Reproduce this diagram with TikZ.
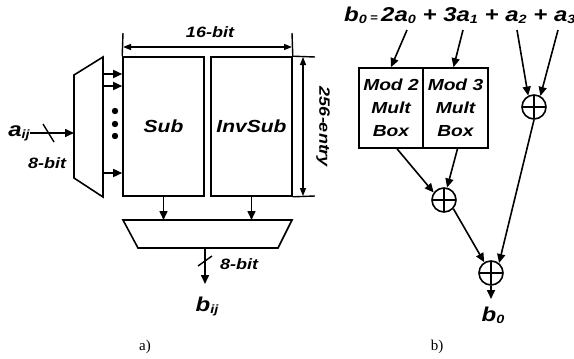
\documentclass[tikz,border=0pt]{standalone}
\usepackage{fontspec}
\newfontfamily\lab[FakeStretch=1.2]{Liberation Sans}
\newfontfamily\capf{Liberation Serif}
\usetikzlibrary{arrows.meta}
\newcommand\fsz[1]{\fontsize{#1}{#1}\selectfont}
\newcommand\subx[1]{\raisebox{-2pt}{\fsz{12}#1}}
\begin{document}
\begin{tikzpicture}[x=1pt,y=-1pt,
  lw/.style={line width=1.6pt},
  arr/.style={line width=1.6pt,-{Triangle[length=9pt,width=8pt]}},
  dimarr/.style={line width=1.4pt,{Triangle[length=8pt,width=6pt]}-{Triangle[length=8pt,width=6pt]}},
  tick/.style={line width=1.4pt},
  txt/.style={font=\lab\bfseries\itshape\fsz{15}, inner sep=0pt},
  big/.style={font=\lab\bfseries\itshape\fsz{20}, inner sep=0pt},
  memb/.style={draw, line width=1.6pt, minimum width=81pt, minimum height=139pt, inner sep=0pt, font=\lab\bfseries\itshape\fsz{17.5}},
  multb/.style={draw, line width=1.6pt, minimum height=80pt, inner sep=0pt, align=center, font=\lab\bfseries\itshape\fontsize{16}{23}\selectfont},
  xorn/.style={circle, draw, line width=1.6pt, minimum size=24pt, inner sep=0pt,
    path picture={\draw[line width=1.6pt] (path picture bounding box.north) -- (path picture bounding box.south)
      (path picture bounding box.west) -- (path picture bounding box.east);}},
  capt/.style={font=\capf\fsz{15}, inner sep=0pt}
]
\useasboundingbox (0,0) rectangle (574,359);

% ---------- a) ----------
\node[memb] (sub) at (163.5,126.5) {Sub};
\node[memb] (inv) at (251.5,126.5) {InvSub};

% input mux
\coordinate (m1tl) at (74,75);
\coordinate (m1tr) at (103,57);
\coordinate (m1br) at (103,197);
\coordinate (m1bl) at (74,178);
\draw[lw] (m1tl) -- (m1tr) -- (m1br) -- (m1bl) -- cycle;

\node[big] (aij) at (19,133) {a\subx{ij}};
\coordinate (m1in) at (74,133);
\draw[arr] (aij.east) -- (m1in);
\draw[tick] (43,124) -- (54,142);
\node[txt] (ib) at (47,163) {8-bit};

\coordinate (o1) at (103,74);
\coordinate (o2) at (103,86);
\coordinate (o3) at (103,173);
\draw[arr] (o1) -- (sub.west |- o1);
\draw[arr] (o2) -- (sub.west |- o2);
\draw[arr] (o3) -- (sub.west |- o3);
\fill (115,111) circle (3.2pt) (115,124) circle (3.2pt) (115,136) circle (3.2pt);

% 16-bit dimension
\coordinate (d1) at (123,33);
\coordinate (d2) at (292,33);
\draw[tick] (d1) -- (sub.north west);
\draw[tick] (d2) -- (inv.north east);
\draw[dimarr] (123,47) coordinate (d1m) -- (292,47) coordinate (d2m);
\node[txt] (w16) at (210,32) {16-bit};

% 256-entry dimension
\coordinate (e1) at (315,57);
\coordinate (e2) at (315,196);
\draw[tick] (inv.north east) -- (e1);
\draw[tick] (inv.south east) -- (e2);
\draw[dimarr] (303,57) coordinate (e1m) -- (303,196) coordinate (e2m);
\node[txt, rotate=-90] (h256) at (323,127) {256-entry};

% output mux
\coordinate (m2tl) at (123,220);
\coordinate (m2tr) at (292,220);
\coordinate (m2br) at (278,248);
\coordinate (m2bl) at (138,248);
\draw[lw] (m2tl) -- (m2tr) -- (m2br) -- (m2bl) -- cycle;
\draw[arr] (sub.south) -- (sub.south |- m2tl);
\draw[arr] (inv.south) -- (inv.south |- m2tl);
\coordinate (m2o) at (205,248);
\coordinate (bend) at (205,284);
\draw[arr] (m2o) -- (bend);
\draw[tick] (198,266) -- (212,256);
\node[txt] (ob) at (239,264) {8-bit};
\node[big] (bij) at (207,306) {b\subx{ij}};

\node[capt] (ca) at (145,347) {a)};

% ---------- b) ----------
\node[big, anchor=west] (eq) at (344,15) {b\subx{0}\,{\fsz{11}=}\,2a\subx{0} + 3a\subx{1} + a\subx{2} + a\subx{3}};
\coordinate (t0) at (407,30);
\coordinate (t1) at (463,30);
\coordinate (t2) at (517,30);
\coordinate (t3) at (558,30);

\node[multb, minimum width=64pt] (mod2) at (391,108) {Mod 2\\Mult\\Box};
\node[multb, minimum width=65pt] (mod3) at (455.5,108) {Mod 3\\Mult\\Box};

\node[xorn] (x1) at (534,107) {};
\node[xorn] (x2) at (444,200) {};
\node[xorn] (x3) at (491,273) {};

\draw[arr] (t0) -- (mod2.north);
\draw[arr] (t1) -- ([xshift=-2pt]mod3.north);
\draw[arr] (t2) -- (x1.117);
\draw[arr] (t3) -- (x1.60);
\draw[arr] ([xshift=6pt]mod2.south) -- (x2.144);
\draw[arr] ([xshift=2pt]mod3.south) -- (x2.76);
\draw[arr] (x2.-43) -- (x3.122);
\draw[arr] (x1.south) -- (x3.51);
\coordinate (bout) at (491,299);
\draw[arr] (x3.south) -- (bout);
\node[big] (b0) at (493,315) {b\subx{0}};

\node[capt] (cb) at (437,347) {b)};
\end{tikzpicture}
\end{document}
